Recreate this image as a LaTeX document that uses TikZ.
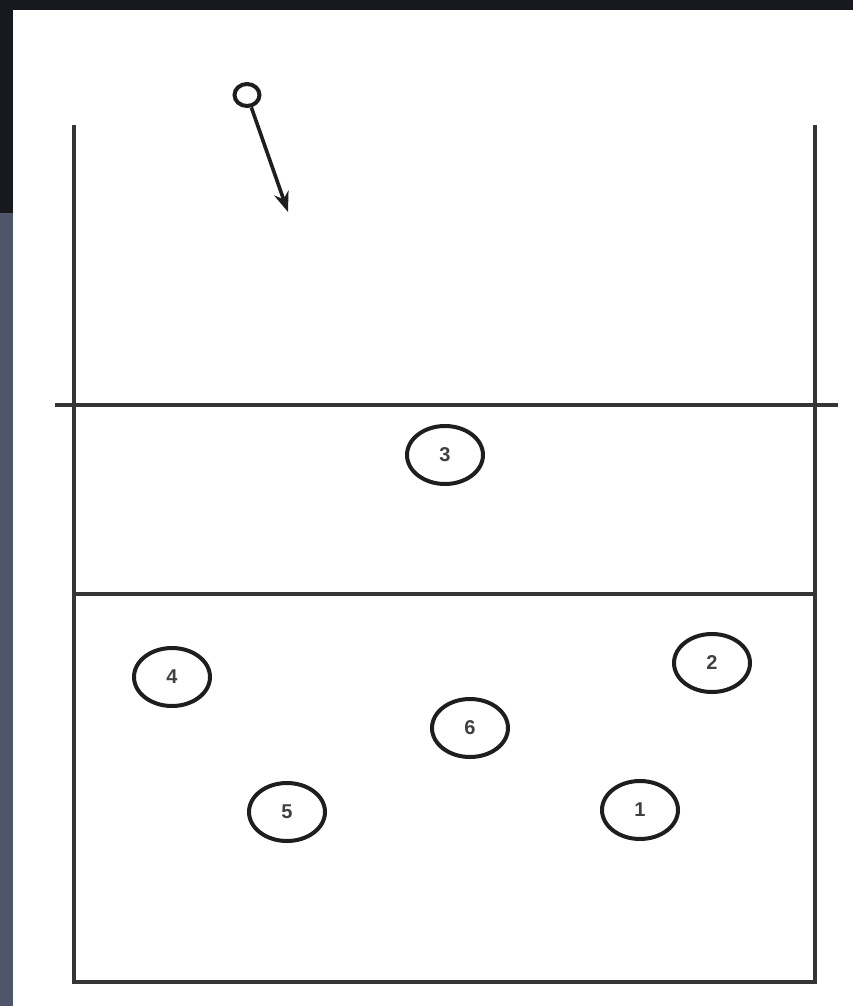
\documentclass[tikz,border=0pt]{standalone}
\usepackage{fontspec}
\setmainfont{Liberation Sans}
\usetikzlibrary{arrows.meta,shapes.geometric}
\definecolor{topdark}{HTML}{17191F}
\definecolor{sideslate}{HTML}{505669}
\definecolor{ink}{HTML}{1E1E1E}
\tikzset{
  courtline/.style={draw=ink!90, line width=3.4pt},
  player/.style={ellipse, draw=ink, line width=4pt, minimum width=76pt, minimum height=58pt, inner sep=0pt, font=\fontsize{20}{20}\selectfont\bfseries, text=ink!85},
}
\begin{document}
\begin{tikzpicture}[x=1pt,y=-1pt]
\useasboundingbox (0,0) rectangle (853,1006);
\fill[white] (0,0) rectangle (853,1006);
\fill[topdark] (0,0) rectangle (853,10);
\fill[topdark] (0,0) rectangle (13,213);
\fill[sideslate] (0,213) rectangle (13,1006);
% court
\coordinate (tl) at (74,125);
\coordinate (bl) at (74,982);
\coordinate (br) at (815,982);
\coordinate (tr) at (815,125);
\draw[courtline, line join=miter] (tl) -- (bl) -- (br) -- (tr);
\coordinate (netl) at (55,405);
\coordinate (netr) at (838,405);
\draw[courtline] (netl) -- (netr);
\coordinate (atkl) at (74,594);
\coordinate (atkr) at (815,594);
\draw[courtline] (atkl) -- (atkr);
% ball and serve
\node[ellipse, draw=ink, line width=4pt, minimum width=25pt, minimum height=22pt, inner sep=0pt] (ball) at (247,95) {};
\coordinate (aim) at (288,212);
\draw[ink, line width=3.6pt, -{Stealth[length=20pt,width=15pt]}] (ball) -- (aim);
% players
\node[player] (p3) at (445,455) {3};
\node[player] (p4) at (172,677) {4};
\node[player] (p2) at (712,663) {2};
\node[player] (p6) at (470,728) {6};
\node[player] (p5) at (287,812) {5};
\node[player] (p1) at (640,810) {1};
\end{tikzpicture}
\end{document}
